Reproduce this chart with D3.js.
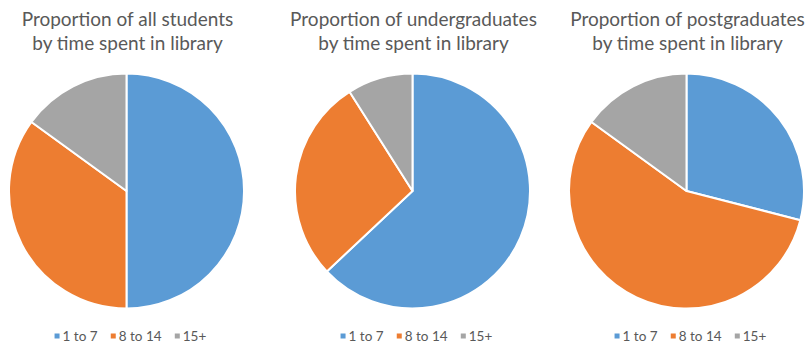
<!DOCTYPE html>
<html>
<head>
<meta charset="utf-8">
<script src="https://cdn.jsdelivr.net/npm/d3@7"></script>
<style>
  html, body { margin: 0; padding: 0; background: #fff; }
  svg { display: block; }
</style>
</head>
<body>
<svg id="chart" width="806" height="348"></svg>
<script>
// ---- data ----
const categories = ["1 to 7", "8 to 14", "15+"];
const titles = [
  ["Proportion of all students", "by time spent in library"],
  ["Proportion of undergraduates", "by time spent in library"],
  ["Proportion of postgraduates", "by time spent in library"]
];
const allStudents = [50, 35, 15];
const undergraduates = [63, 28, 9];
const postgraduates = [29, 56, 15];
const seriesList = [allStudents, undergraduates, postgraduates];
const colors = ["#5B9BD5", "#ED7D31", "#A5A5A5"];

// ---- layout ----
const svg = d3.select("#chart");
const centersX = [126.5, 412.5, 686.5];
const centerY = 191;
const radius = 117.5;
const font = "Lato, 'Open Sans', sans-serif";
const textColor = "#595959";

const color = d3.scaleOrdinal().domain(categories).range(colors);
const pie = d3.pie().sort(null).value(d => d.value);
const arc = d3.arc().innerRadius(0).outerRadius(radius);

seriesList.forEach((vals, i) => {
  const cx = centersX[i];
  const g = svg.append("g");

  // title
  const t = g.append("text")
    .attr("x", cx)
    .attr("text-anchor", "middle")
    .attr("font-family", font)
    .attr("font-size", 19)
    .attr("fill", textColor);
  t.append("tspan").attr("x", cx + 1).attr("y", 26).text(titles[i][0]);
  t.append("tspan").attr("x", cx + 1).attr("y", 50).text(titles[i][1]);

  // pie
  const data = categories.map((c, k) => ({ cat: c, value: vals[k] }));
  g.append("g")
    .attr("transform", `translate(${cx},${centerY})`)
    .selectAll("path")
    .data(pie(data))
    .join("path")
    .attr("d", arc)
    .attr("fill", d => color(d.data.cat))
    .attr("stroke", "#fff")
    .attr("stroke-width", 2)
    .attr("stroke-linejoin", "round");

  // legend
  const leg = g.append("g");
  const items = leg.selectAll("g.item").data(categories).join("g").attr("class", "item");
  items.append("rect")
    .attr("width", 5).attr("height", 5)
    .attr("y", -4)
    .attr("fill", d => color(d));
  items.append("text")
    .attr("x", 8)
    .attr("y", 0)
    .attr("dy", "0.35em")
    .attr("font-family", font)
    .attr("font-size", 13.5)
    .attr("fill", textColor)
    .text(d => d);
  let x = 0;
  const gap = 13;
  items.each(function() {
    const w = this.getBBox().width;
    d3.select(this).attr("transform", `translate(${x},0)`);
    x += w + gap;
  });
  const total = x - gap;
  leg.attr("transform", `translate(${cx + 4 - total / 2},${337.5})`);
  items.select("text").attr("y", -1.5);
});
</script>
</body>
</html>
